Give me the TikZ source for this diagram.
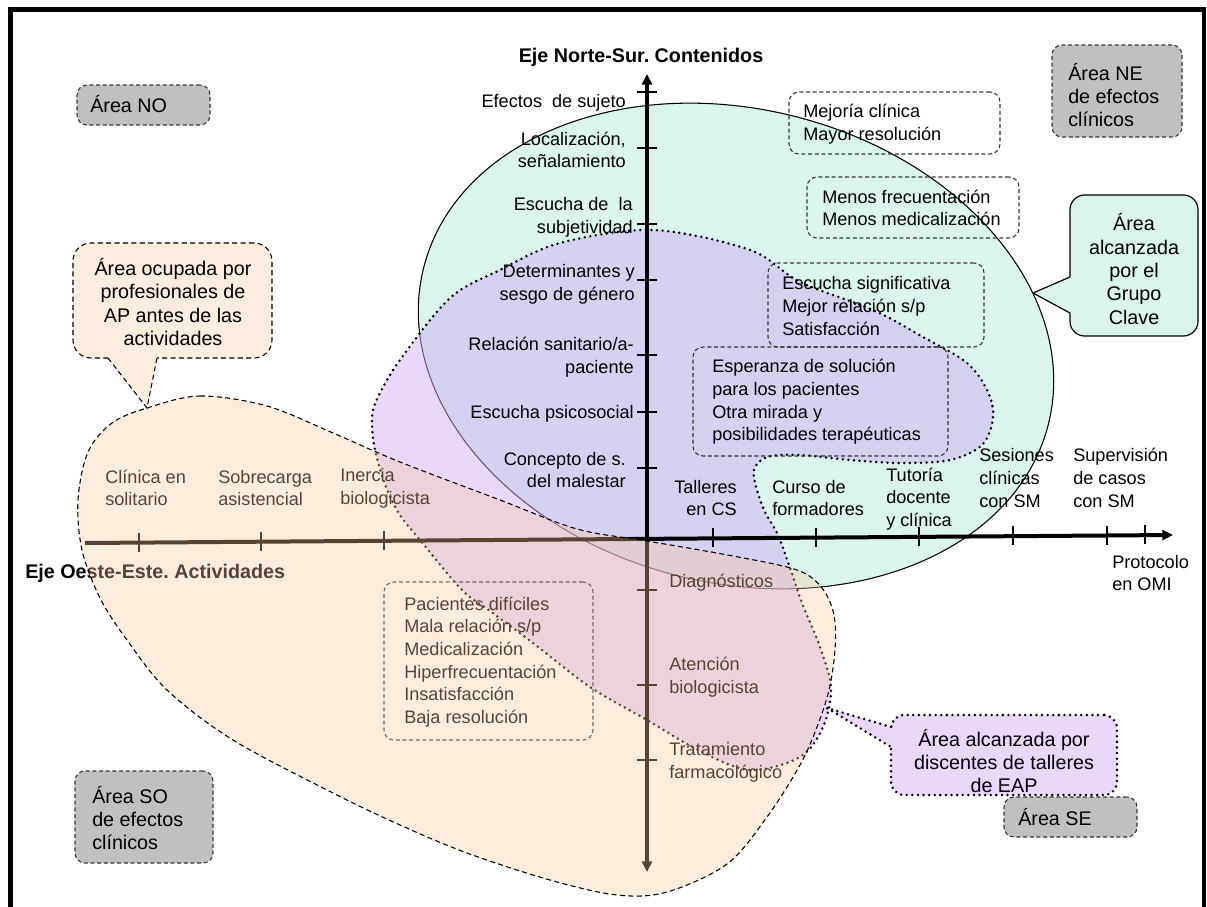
\documentclass[tikz,border=0pt]{standalone}
\usepackage{fontspec}
\setmainfont{Liberation Sans}
\usetikzlibrary{arrows.meta,fit}
\definecolor{tealfill}{RGB}{217,245,237}
\definecolor{lilac}{RGB}{211,175,249}
\definecolor{lilacsolid}{RGB}{233,215,252}
\definecolor{peach}{RGB}{250,202,155}
\definecolor{peachsolid}{RGB}{253,237,222}
\definecolor{boxgray}{RGB}{192,192,192}
\definecolor{dashgray}{RGB}{55,55,55}
\frenchspacing
\begin{document}
\begin{tikzpicture}[x=0.75pt,y=-0.75pt,
  lbl/.style={inner sep=0pt, font=\fontsize{13.6pt}{17pt}\selectfont},
  big/.style={inner sep=0pt, font=\fontsize{14.8pt}{17.5pt}\selectfont},
  ttl/.style={inner sep=0pt, font=\fontsize{14.8pt}{17.5pt}\selectfont\bfseries},
  dashbox/.style={inner sep=0pt, rounded corners=7.5pt, draw=dashgray, line width=0.8pt, dash pattern=on 3pt off 2pt},
  graybox/.style={dashbox, fill=boxgray},
  dotline/.style={draw=black, line width=2.1pt, line cap=round, dash pattern=on 0pt off 4.2pt},
  dashline/.style={draw=black, line width=0.8pt, dash pattern=on 3.8pt off 2.5pt},
  axis/.style={line width=3pt},
  tickmark/.style={line width=0.9pt}
]
\useasboundingbox (0,0) rectangle (1207,907);

% ---- area reached by the key group (ellipse)
\path[fill=tealfill, draw=black, line width=0.8pt, rotate around={-14:(736,346)}]
  (736,346) ellipse [x radius=241.5pt, y radius=177.75pt];

% ---- area reached by the workshop participants
\path[fill=lilac, fill opacity=0.5, dotline] plot[smooth cycle, tension=0.55] coordinates {
  (653,230) (750,250) (800,282) (873,310) (923,337) (967,363) (988,392) (993,418)
  (982,445) (950,460) (900,463) (850,460) (800,455) (767,457) (754,470) (757,490)
  (765,512) (778,535) (790,568) (802,603) (820,647) (831,688) (823,727) (800,757)
  (750,770) (700,751) (647,720) (590,687) (533,643) (490,611) (462,590) (420,540)
  (400,515) (386,487) (375,450) (372,418) (378,397) (400,360) (450,298) (500,270)
  (560,243)};

% ---- axes
\coordinate (vTop) at (647,74);
\coordinate (vBot) at (647,872);
\coordinate (hL) at (85,543);
\coordinate (hR) at (1173,535);
\draw[axis, {Triangle[length=8pt,width=7.5pt]}-{Triangle[length=8pt,width=7.5pt]}] (vBot) -- (vTop);
\draw[axis, -{Triangle[length=8pt,width=7.5pt]}] (hL) -- (hR);
\foreach \y in {92,148,224,280,355,412,468,590,685,760}
  \draw[tickmark] (637,\y) -- (657,\y);
\foreach \x/\y in {139/542.6,261/541.7,384/540.8,713/538.4,816/537.6,919/536.9,1013/536.2,1107/535.5,1145/535.2}
  \draw[tickmark] (\x,\y-10) -- (\x,\y+9);

% ---- axis titles
\node[ttl, anchor=base] (tNS) at (641,62) {Eje Norte-Sur. Contenidos};
\node[ttl, anchor=base west] (tOE) at (25,578) {Eje Oeste-Este. Actividades};

% ---- labels on the north-south axis
\node[lbl, anchor=base east] (nEf) at (626,107) {Efectos\ \ de sujeto};
\node[lbl, anchor=east, align=right] (nLoc) at (626,150) {Localización,\\señalamiento};
\node[lbl, anchor=east, align=right] (nEsc) at (633,217) {Escucha de\ \ la\\subjetividad};
\node[lbl, anchor=east, align=right] (nDet) at (635,284) {Determinantes y\\sesgo de género};
\node[lbl, anchor=east, align=right] (nRel) at (634,357) {Relación sanitario/a-\\paciente};
\node[lbl, anchor=base east] (nPsi) at (634,418) {Escucha psicosocial};
\node[lbl, anchor=east, align=right] (nCon) at (626,470) {Concepto de s.\\del malestar};
\node[lbl, anchor=base west] (sDia) at (669,587) {Diagnósticos};
\node[lbl, anchor=west, align=left] (sAte) at (669,677) {Atención\\biologicista};
\node[lbl, anchor=west, align=left] (sTra) at (669,762) {Tratamiento\\farmacológico};

% ---- labels on the west-east axis
\node[lbl, anchor=west, align=left] (wCli) at (105,488) {Clínica en\\solitario};
\node[lbl, anchor=west, align=left] (wSob) at (218,488) {Sobrecarga\\asistencial};
\node[lbl, anchor=west, align=left] (wIne) at (340,488) {Inercia\\biologicista};
\node[lbl, anchor=east, align=right] (eTal) at (737,498) {Talleres\\en CS};
\node[lbl, anchor=west, align=left] (eCur) at (772,498) {Curso de\\formadores};
\node[lbl, anchor=west, align=left] (eTut) at (886,499) {Tutoría\\docente\\y clínica};
\node[lbl, anchor=west, align=left] (eSes) at (979,478) {Sesiones\\clínicas\\con SM};
\node[lbl, anchor=west, align=left] (eSup) at (1073,478) {Supervisión\\de casos\\con SM};
\node[lbl, anchor=west, align=left] (ePro) at (1112,573) {Protocolo\\en OMI};

% ---- effect boxes
\node[dashbox, fit={(789,92) (1000,154)}] (bMej) {};
\node[lbl, anchor=west, align=left] (tMej) at (803,124) {Mejoría clínica\\Mayor resolución};
\node[dashbox, fit={(807,177) (1019,238)}] (bMen) {};
\node[lbl, anchor=west, align=left] (tMen) at (822,208) {Menos frecuentación\\Menos medicalización};
\node[dashbox, fit={(768,263) (984,347)}] (bEsc) {};
\node[lbl, anchor=west, align=left] (tEsc) at (782,306) {Escucha significativa\\Mejor relación s/p\\Satisfacción};
\node[dashbox, fit={(693,347) (948,456)}] (bEsp) {};
\node[lbl, anchor=west, align=left] (tEsp) at (712,402) {Esperanza de solución\\para los pacientes\\Otra mirada y\\posibilidades terapéuticas};
\node[dashbox, fit={(384,582) (593,740)}] (bPac) {};
\node[lbl, anchor=west, align=left] (tPac) at (404,662) {Pacientes difíciles\\Mala relación s/p\\Medicalización\\Hiperfrecuentación\\Insatisfacción\\Baja resolución};

% ---- area of primary care professionals before the activities
\path[fill=peach, fill opacity=0.34, dashline] plot[smooth cycle, tension=0.55] coordinates {
  (147,408) (200,396) (267,406) (333,433) (400,462) (500,500) (577,529) (647,541)
  (733,556) (797,570) (822,588) (834,615) (835,650) (829,690) (817,727) (800,765)
  (767,817) (727,864) (667,892) (617,895) (550,880) (467,853) (400,825) (333,793)
  (233,740) (167,690) (127,640) (100,598) (82,550) (78,500) (88,452) (112,423)};

% ---- callout: primary care professionals
\node[fit={(73,243) (272,358)}, inner sep=0pt, rounded corners=13.5pt, fill=peachsolid, dashline] (cAP) {};
\coordinate (apTip) at (147,408);
\fill[peachsolid] (108,352) -- (108,358) -- (apTip) -- (157,358) -- (157,352) -- cycle;
\draw[dashline] (108,358) -- (apTip) -- (157,358);
\node[big, align=center] (tAP) at (173,302) {Área ocupada por\\profesionales de\\AP antes de las\\actividades};

% ---- callout: key group
\node[fit={(1070,195) (1198,336)}, inner sep=0pt, rounded corners=11pt, fill=tealfill, draw=black, line width=0.9pt] (cGC) {};
\coordinate (gcTip) at (1033,293);
\fill[tealfill] (1075,277) -- (1070,277) -- (gcTip) -- (1070,313) -- (1075,313) -- cycle;
\draw[line width=0.9pt] (1070,277) -- (gcTip) -- (1070,313);
\node[big, align=center] (tGC) at (1134,269) {Área\\alcanzada\\por el\\Grupo\\Clave};

% ---- callout: workshop participants
\node[fit={(891,715) (1117,795)}, inner sep=0pt, rounded corners=10pt, fill=lilacsolid, dotline] (cEAP) {};
\coordinate (eapTip) at (827,708);
\fill[lilacsolid] (896,727) -- (891,727) -- (eapTip) -- (891,747) -- (896,747) -- cycle;
\draw[dotline] (891,727) -- (eapTip) -- (891,747);
\node[big, align=center] (tEAP) at (1004,761) {Área alcanzada por\\discentes de talleres\\de EAP};

% ---- quadrant boxes
\node[graybox, fit={(77,85) (210,125)}] (bNO) {};
\node[big, anchor=base west] (tNO) at (90,112) {Área NO};
\node[graybox, fit={(1052,45) (1182,137)}] (bNE) {};
\node[big, anchor=west, align=left] (tNE) at (1068,95) {Área NE\\de efectos\\clínicos};
\node[graybox, fit={(75,771) (213,863)}] (bSO) {};
\node[big, anchor=west, align=left] (tSO) at (92,818) {Área SO\\de efectos\\clínicos};
\node[graybox, fit={(1004,797) (1137,837)}] (bSE) {};
\node[big, anchor=base west] (tSE) at (1018,825) {Área SE};

% ---- frame
\draw[line width=3.6pt, line join=miter] (10.8,910) -- (10.8,9.7) -- (1204,9.7) -- (1204,910);
\end{tikzpicture}
\end{document}
